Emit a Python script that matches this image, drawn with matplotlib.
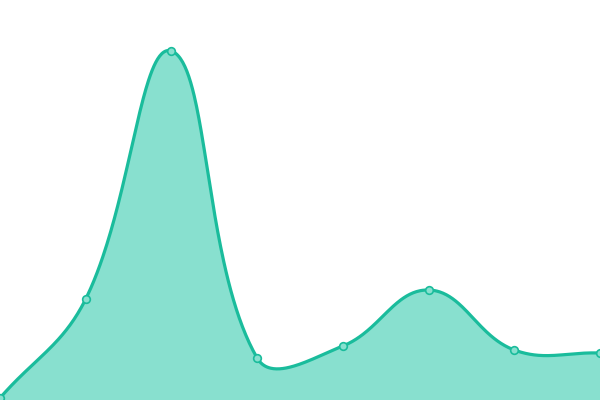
import numpy as np
import matplotlib
matplotlib.use("Agg")
import matplotlib.pyplot as plt

categories = list(range(8))
values = [2, 101, 349, 42, 54, 110, 50, 47]

LINE = "#1abc9c"
FILL = "#88e0cf"
SMOOTH = 0.4

def smooth_line(x, y, n=80):
    # control points computed in pixel space (600 x 400)
    X = np.asarray(x, float) * 600.0 / (len(x) - 1)
    Y = np.asarray(y, float)
    P = np.stack([X, Y], axis=1)
    m = len(P)
    cin = np.zeros_like(P)
    cout = np.zeros_like(P)
    for i in range(m):
        prev = P[i - 1] if i > 0 else P[i]
        nxt = P[i + 1] if i < m - 1 else P[i]
        v = nxt - prev
        lp = np.hypot(*(P[i] - prev))
        ln = np.hypot(*(nxt - P[i]))
        r = ln / (ln + lp) if (ln + lp) > 0 else 0.5
        cout[i] = P[i] + v * SMOOTH * r
        cin[i] = P[i] - v * SMOOTH * (1 - r)
    t = np.linspace(0, 1, n)[:, None]
    xs, ys = [], []
    for i in range(m - 1):
        b = (1 - t) ** 3 * P[i] + 3 * (1 - t) ** 2 * t * cout[i] \
            + 3 * (1 - t) * t ** 2 * cin[i + 1] + t ** 3 * P[i + 1]
        xs.append(b[:, 0]); ys.append(b[:, 1])
    sx = np.concatenate(xs) * (len(x) - 1) / 600.0
    return sx, np.concatenate(ys)

fig = plt.figure(figsize=(6, 4), dpi=100)
ax = fig.add_axes([0, 0, 1, 1])
sx, sy = smooth_line(categories, values)
ax.fill_between(sx, 0, sy, color=FILL, lw=0, zorder=1)
ax.plot(sx, sy, color=LINE, lw=2.3, zorder=2, solid_capstyle="round")
ax.plot(categories, values, "o", ms=5.5, mfc=FILL, mec=LINE, mew=1.2, zorder=3, clip_on=False)
ax.set_xlim(0, 7)
ax.set_ylim(0, 400)
ax.axis("off")
fig.savefig("out.png", dpi=100)
